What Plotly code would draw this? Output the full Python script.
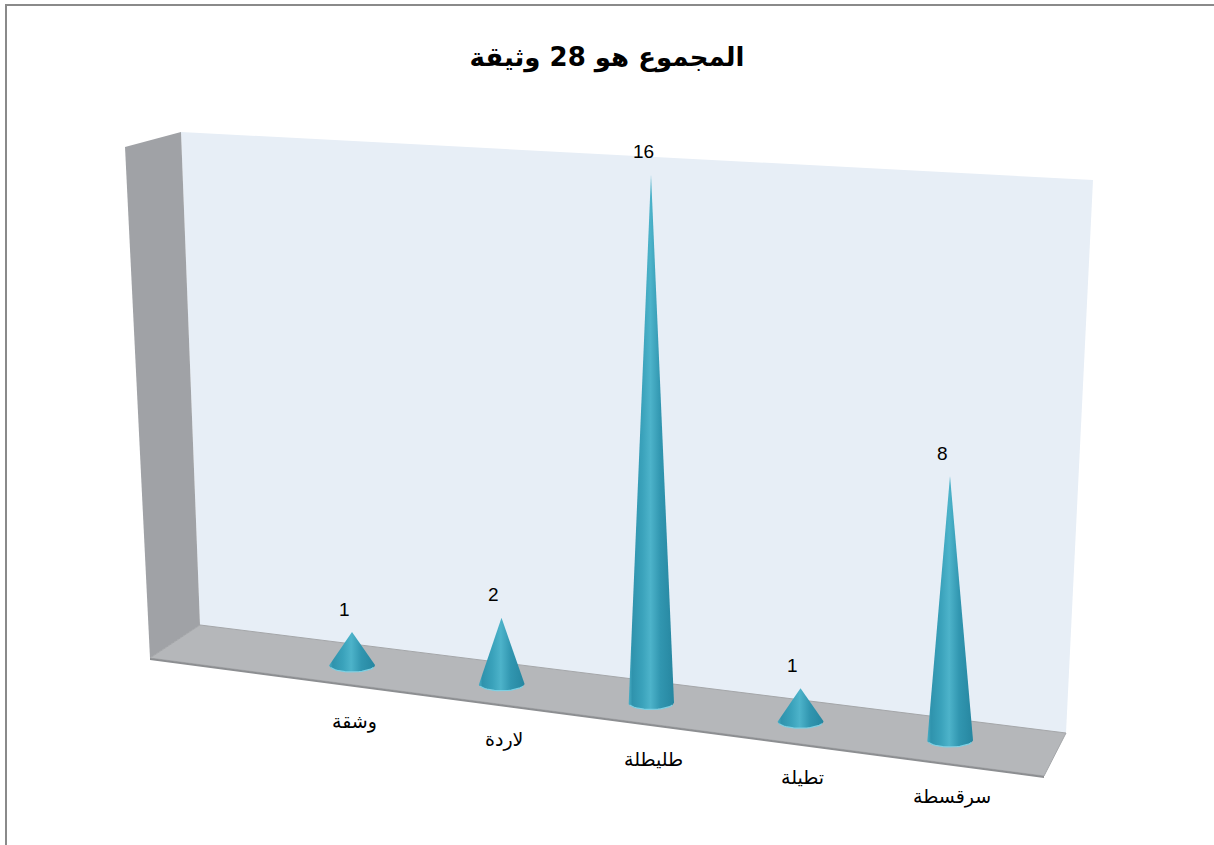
import numpy as np
import plotly.graph_objects as go

# ---- data ----
categories = ["وشقة", "لاردة", "طليطلة", "تطيلة", "سرقسطة"]
values = [1, 2, 16, 1, 8]
title_text = "المجموع هو 28 وثيقة"

# ---- layout geometry (pixels) ----
W, H = 1214, 845
X0_PX, X_STEP_PX = 352.0, 149.5      # category index -> pixel
Y0_PX, Y_UNIT_PX = 665.0, 33.0       # value 0 of first category -> pixel
FLOOR_DROP_PX = 18.75                # perspective drop of floor per category
HALF_W_PX, ELL_H_PX = 23.0, 7.0

xr = [(0 - X0_PX) / X_STEP_PX, (W - X0_PX) / X_STEP_PX]
yr = [(Y0_PX - H) / Y_UNIT_PX, Y0_PX / Y_UNIT_PX]
shear = FLOOR_DROP_PX / Y_UNIT_PX
hw = HALF_W_PX / X_STEP_PX
eh = ELL_H_PX / Y_UNIT_PX


def P(x, y):
    return x / W, 1 - y / H


def path(pts):
    s = ""
    for k, (x, y) in enumerate(pts):
        px, py = P(x, y)
        s += ("M" if k == 0 else "L") + f"{px:.5f},{py:.5f} "
    return s + "Z"


fig = go.Figure()

cone_scale = [[0.0, "#4aafc6"], [0.08, "#2f93ad"], [0.3, "#3aa2bb"],
              [0.48, "#4db3ca"], [0.7, "#3196b0"], [1.0, "#2686a0"]]

for i, (cat, v) in enumerate(zip(categories, values)):
    base = -shear * i
    t = np.linspace(0, np.pi, 40)
    xs = [i] + list(i - hw * np.cos(t)) + [i]
    ys = [base + v] + list(base - eh * np.sin(t)) + [base + v]
    fig.add_trace(go.Scatter(
        x=xs, y=ys, mode="lines", fill="toself",
        line=dict(width=0, color="#2f93ad"),
        fillgradient=dict(type="horizontal", colorscale=cone_scale),
        hoverinfo="skip", showlegend=False))
    # rim highlight
    t2 = np.linspace(0.12 * np.pi, 0.88 * np.pi, 20)
    fig.add_trace(go.Scatter(
        x=list(i - hw * np.cos(t2)), y=list(base - eh * np.sin(t2)),
        mode="lines", line=dict(width=1.2, color="#7fd0e3"),
        hoverinfo="skip", showlegend=False))
    fig.add_annotation(x=i, y=base + v, text=str(v), showarrow=False,
                       xshift=-8, yshift=23,
                       font=dict(family="Liberation Sans, Arial", size=19, color="#000"))
    fig.add_annotation(x=i, y=base, text=cat, showarrow=False,
                       xshift=2, yshift=-56,
                       font=dict(family="DejaVu Sans", size=19, color="#000"))

shapes = [
    # back wall
    dict(type="path", path=path([(181, 132), (1093, 180), (1066, 733), (200, 625)]),
         fillcolor="#e7eef6", line=dict(width=0), xref="paper", yref="paper", layer="below"),
    # side wall
    dict(type="path", path=path([(125, 147), (181, 132), (200, 625), (150, 658)]),
         fillcolor="#a0a2a6", line=dict(width=0), xref="paper", yref="paper", layer="below"),
    # floor
    dict(type="path", path=path([(200, 625), (1066, 733), (1044, 776), (150, 658)]),
         fillcolor="#b5b7ba", line=dict(width=1, color="#a4a6a9"), xref="paper", yref="paper", layer="below"),
    # floor front edge
    dict(type="path", path=path([(150, 658), (1044, 776), (1044, 778), (150, 660)]),
         fillcolor="#8c8e91", line=dict(width=0), xref="paper", yref="paper", layer="below"),
    # frame (left and top edges visible)
    dict(type="path", path="M%.5f,-0.1 L%.5f,%.5f L1.1,%.5f" % (6 / W, 6 / W, 1 - 5 / H, 1 - 5 / H),
         line=dict(width=2, color="#8a8a8a"), fillcolor="rgba(0,0,0,0)",
         xref="paper", yref="paper", layer="below"),
]

fig.update_layout(
    width=W, height=H, margin=dict(l=0, r=0, t=0, b=0),
    paper_bgcolor="white", plot_bgcolor="rgba(0,0,0,0)",
    shapes=shapes, showlegend=False,
    xaxis=dict(range=xr, visible=False, fixedrange=True),
    yaxis=dict(range=yr, visible=False, fixedrange=True),
    title=dict(text=title_text, x=0.5, xanchor="center", y=1 - 57 / H, yanchor="middle",
               font=dict(family="DejaVu Sans", size=26, color="#000", weight="bold")),
)

fig.write_html("out.html")
